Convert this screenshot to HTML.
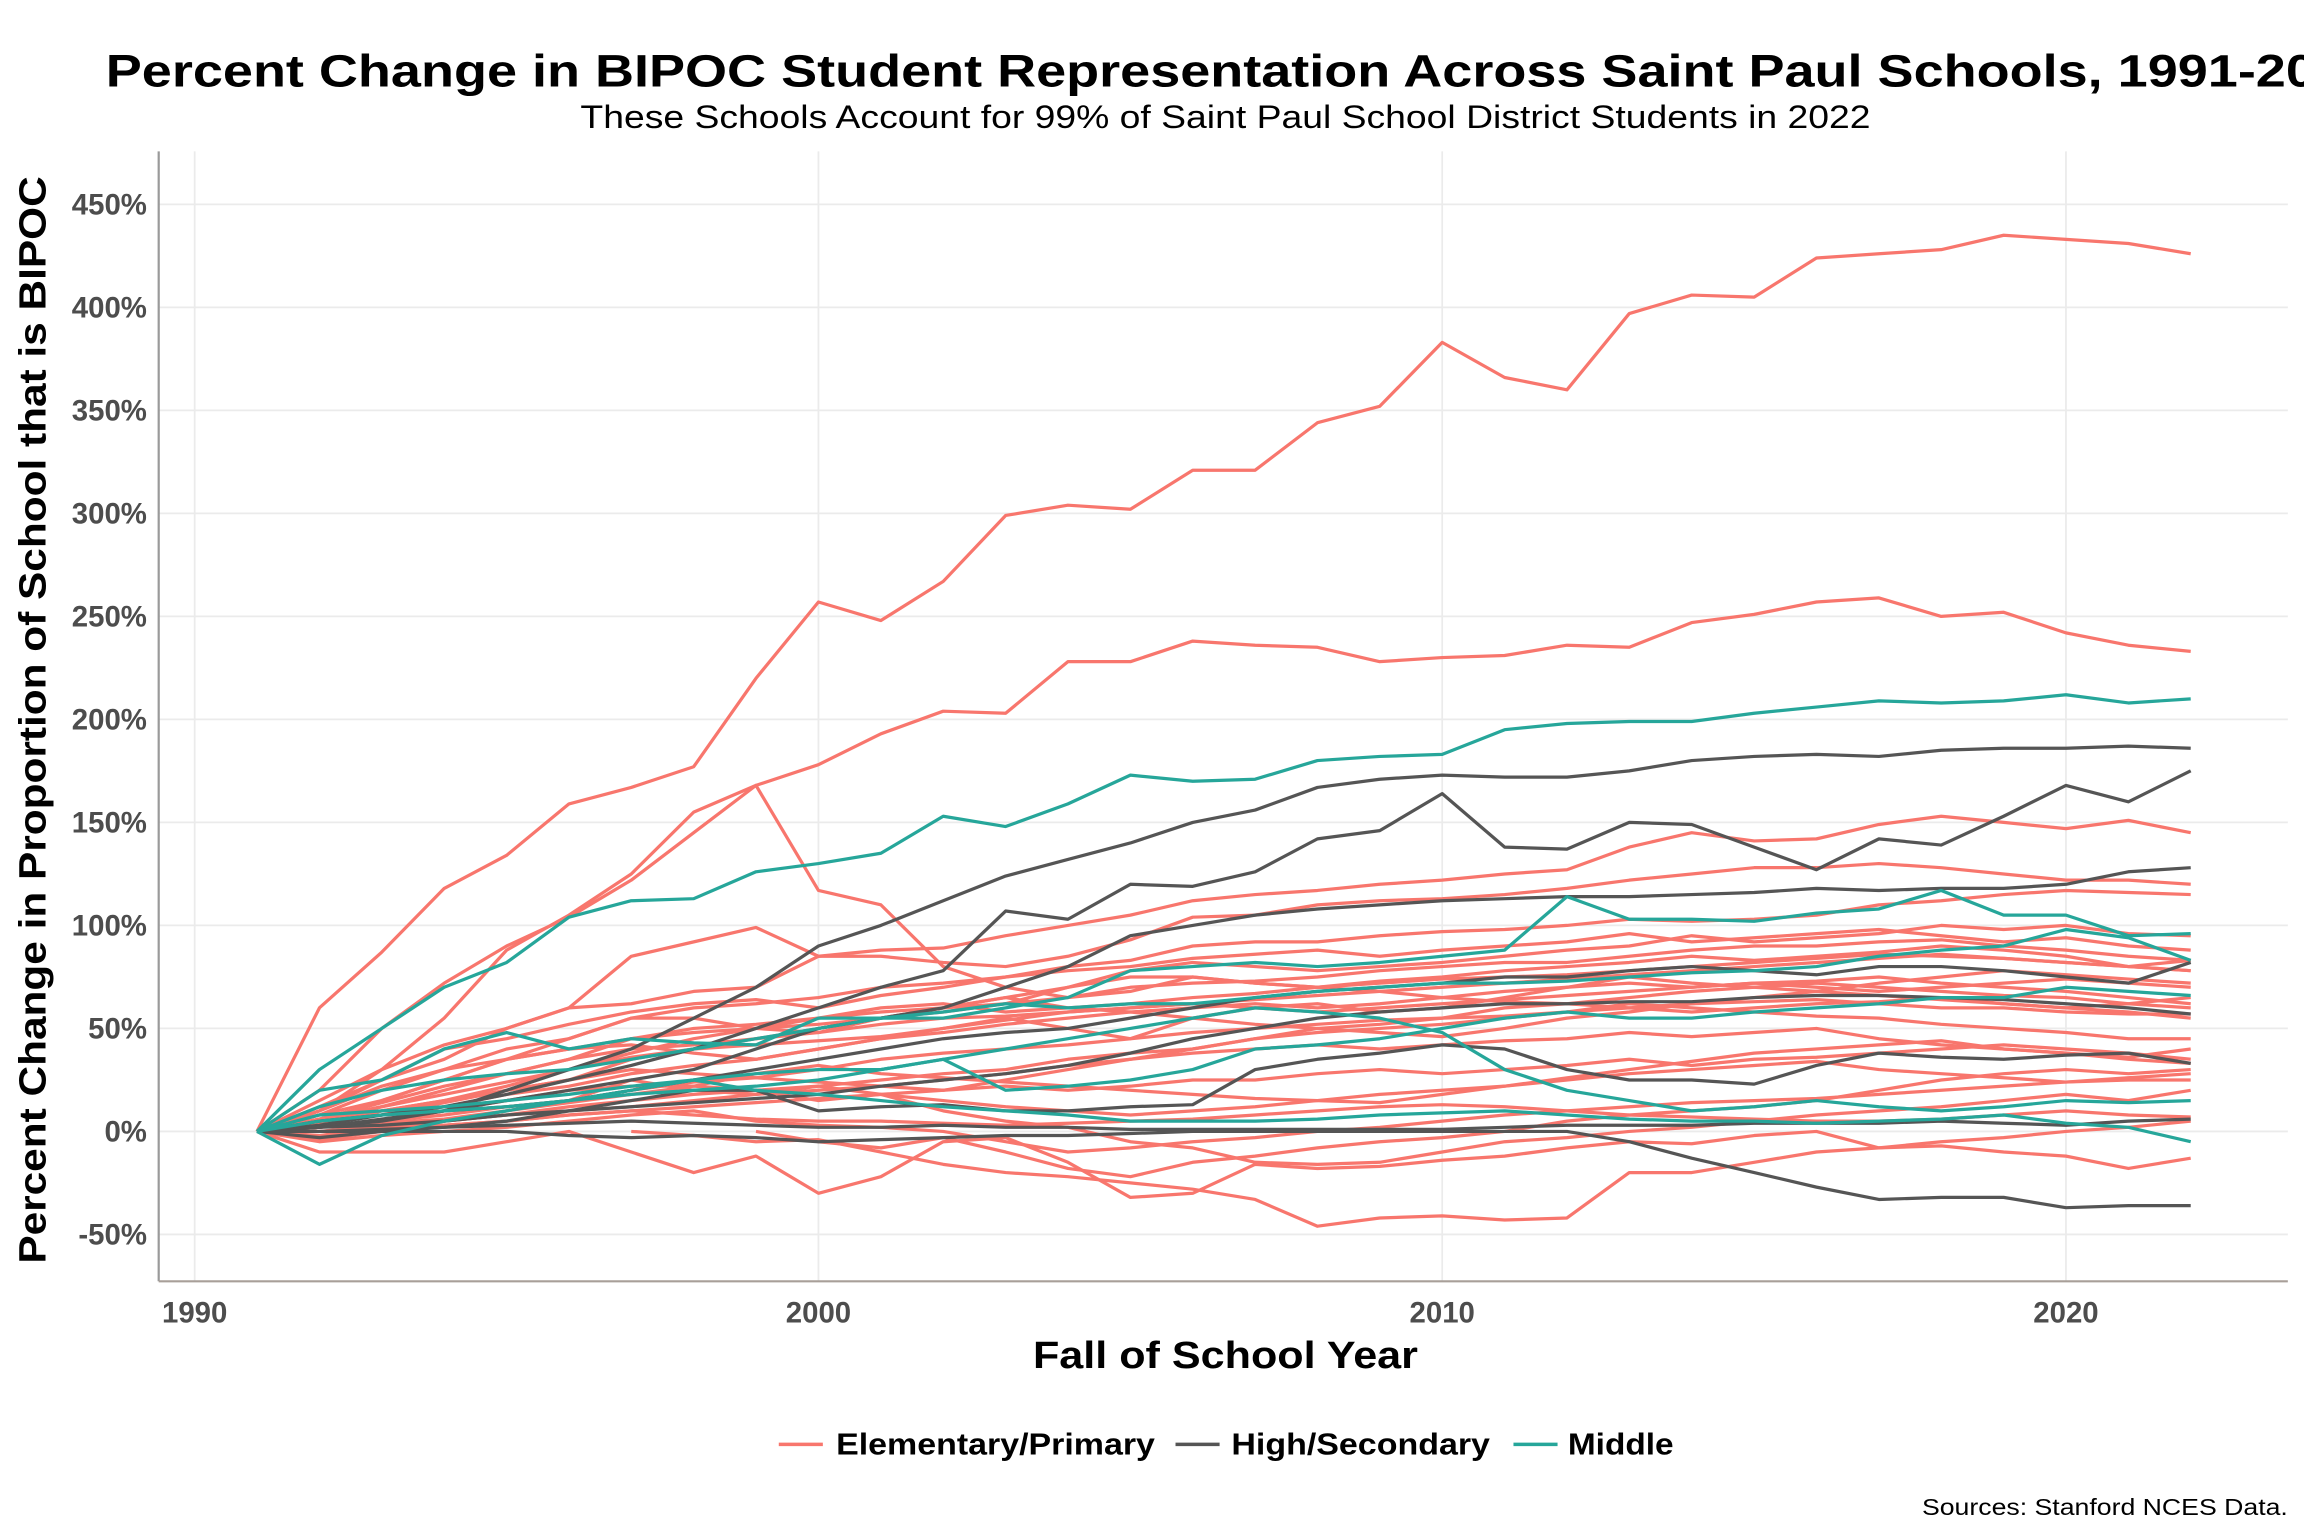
<!DOCTYPE html>
<html><head><meta charset="utf-8"><style>
html,body{margin:0;padding:0;background:#fff;}
svg{display:block;}
text{font-family:"Liberation Sans",Arial,sans-serif;}
</style></head><body>
<svg id="chart" width="2304" height="1536" viewBox="0 0 1568 1045.33" xmlns="http://www.w3.org/2000/svg">
<rect x="0" y="0" width="1568" height="1046" fill="#fff"/>
<g id="grid"></g>
<g id="lines"></g>
<line x1="108" y1="103" x2="108" y2="872" stroke="#9a9a9a" stroke-width="1.5"/>
<line x1="108" y1="872" x2="1557" y2="872" stroke="#a89f99" stroke-width="1.5"/>
<g id="yticks"></g>
<g id="xticks"></g>
<text x="72" y="59" font-size="31" font-weight="bold" fill="#000" textLength="1545" lengthAdjust="spacingAndGlyphs">Percent Change in BIPOC Student Representation Across Saint Paul Schools, 1991-2022</text>
<text x="395" y="87" font-size="22" fill="#000" textLength="878" lengthAdjust="spacingAndGlyphs">These Schools Account for 99% of Saint Paul School District Students in 2022</text>
<text x="703" y="931" font-size="26" font-weight="bold" fill="#000" textLength="262" lengthAdjust="spacingAndGlyphs">Fall of School Year</text>
<text transform="translate(31,860) rotate(-90)" font-size="26" font-weight="bold" fill="#000" textLength="740" lengthAdjust="spacingAndGlyphs">Percent Change in Proportion of School that is BIPOC</text>
<g>
<g><line x1="530" y1="983" x2="560" y2="983" stroke="#F8766D" stroke-width="2.4"/><text x="569" y="990" font-size="21" font-weight="bold" textLength="217" lengthAdjust="spacingAndGlyphs">Elementary/Primary</text></g>
<g><line x1="800" y1="983" x2="830" y2="983" stroke="#555555" stroke-width="2.4"/><text x="838" y="990" font-size="21" font-weight="bold" textLength="176" lengthAdjust="spacingAndGlyphs">High/Secondary</text></g>
<g><line x1="1030" y1="983" x2="1060" y2="983" stroke="#26A69A" stroke-width="2.4"/><text x="1067" y="990" font-size="21" font-weight="bold" textLength="72" lengthAdjust="spacingAndGlyphs">Middle</text></g>
</g>
<text x="1308" y="1031" font-size="16" fill="#000" textLength="249" lengthAdjust="spacingAndGlyphs">Sources: Stanford NCES Data.</text>
</svg>
<script>
const years = [1991,1992,1993,1994,1995,1996,1997,1998,1999,2000,2001,2002,2003,2004,2005,2006,2007,2008,2009,2010,2011,2012,2013,2014,2015,2016,2017,2018,2019,2020,2021,2022];
const yTicks = [-50,0,50,100,150,200,250,300,350,400,450];
const xTicks = [1990,2000,2010,2020];
const N = null;
const elementary = [
[0,60,87,118,134,159,167,177,220,257,248,267,299,304,302,321,321,344,352,383,366,360,397,406,405,424,426,428,435,433,431,426],
[0,10,30,55,88,105,125,155,168,178,193,204,203,228,228,238,236,235,228,230,231,236,235,247,251,257,259,250,252,242,236,233],
[0,20,50,72,90,104,122,145,168,117,110,80,70,65,68,75,72,70,68,65,63,62,60,62,63,64,62,60,60,58,57,57],
[0,15,30,42,50,60,62,68,70,85,88,89,95,100,105,112,115,117,120,122,125,127,138,145,141,142,149,153,150,147,151,145],
[0,10,25,35,50,60,85,92,99,85,85,82,80,85,93,104,105,110,112,113,115,118,122,125,128,128,130,128,125,122,122,120],
[0,8,20,30,40,45,55,60,62,65,70,72,75,80,83,90,92,92,95,97,98,100,103,102,103,105,110,112,115,117,116,115],
[0,5,12,20,28,35,45,50,52,55,58,60,62,70,78,82,80,78,80,82,85,88,90,95,92,94,96,100,98,100,96,95],
[0,3,10,15,20,25,35,40,45,50,55,60,65,70,75,75,72,70,73,75,78,80,82,85,83,85,87,90,88,85,80,78],
[0,5,8,12,18,22,28,32,35,40,45,48,52,55,58,60,62,60,62,65,68,70,72,70,72,73,75,72,70,68,65,62],
[0,2,5,8,12,15,20,24,26,30,35,38,40,42,45,48,50,52,54,55,56,58,60,58,60,62,63,65,62,60,58,55],
[0,0,3,5,8,10,12,15,18,20,22,25,28,32,35,38,40,42,40,42,44,45,48,46,48,50,45,42,40,38,35,33],
[0,-3,0,3,5,8,10,12,14,16,18,20,22,20,22,25,25,28,30,28,30,32,35,32,35,36,38,40,42,40,38,35],
[0,-5,-2,0,2,5,8,10,5,3,2,0,-5,-10,-8,-5,-3,0,2,5,8,10,12,14,15,16,18,20,22,24,25,25],
[0,-10,-10,-10,-5,0,-10,-20,-12,-30,-22,-5,-3,-15,-32,-30,-16,-18,-17,-14,-12,-8,-5,-6,-2,0,-8,-7,-10,-12,-18,-13],
[N,N,N,N,N,N,0,-2,-5,-4,-10,-16,-20,-22,-25,-28,-33,-46,-42,-41,-43,-42,-20,-20,-15,-10,-8,-5,-3,0,2,5],
[0,2,5,10,15,20,22,22,20,15,18,10,5,2,-5,-8,-15,-16,-15,-10,-5,-3,0,2,5,8,10,12,15,18,15,20],
[0,3,15,25,35,45,55,55,50,48,55,60,65,60,58,55,52,50,52,55,60,62,65,68,70,72,70,68,66,65,62,60],
[0,5,10,15,22,30,38,45,50,55,60,62,58,60,62,65,67,70,72,74,75,76,78,80,82,84,86,85,84,82,80,83],
[0,-2,2,5,10,15,25,20,18,22,25,28,30,35,38,40,45,48,50,52,55,58,62,60,58,56,55,52,50,48,45,45],
[0,0,2,3,5,8,10,8,6,5,5,4,3,4,5,6,8,10,12,13,12,10,8,7,6,5,5,6,8,10,8,7],
[0,10,22,30,35,40,45,48,50,52,55,58,62,65,70,72,73,75,78,80,82,82,85,88,90,90,92,93,90,88,85,83],
[0,6,14,22,28,35,40,42,45,48,52,55,56,58,60,62,60,58,60,62,64,66,68,70,72,70,68,70,72,74,72,70],
[N,N,N,N,N,N,N,N,0,-5,-8,-3,-10,-18,-22,-15,-12,-8,-5,-3,0,5,8,10,12,15,20,25,28,30,28,30],
[0,4,8,14,20,25,30,28,26,24,22,20,25,30,35,40,45,50,48,46,50,55,58,62,65,68,66,64,62,60,62,65],
[0,2,4,6,10,14,18,22,28,32,28,26,24,22,20,18,16,15,14,18,22,26,30,34,38,40,42,44,40,38,36,40],
[0,12,25,40,45,52,58,62,64,60,66,70,75,78,80,84,86,88,85,88,90,92,96,92,94,96,98,95,92,94,90,88],
[0,8,15,25,35,40,42,38,35,40,45,50,55,50,45,55,60,62,58,60,65,70,75,72,70,68,72,75,78,76,74,72],
[0,-4,0,5,8,12,15,18,20,22,18,15,12,10,8,10,12,15,18,20,22,25,28,30,32,34,30,28,26,24,26,28],
[0,6,12,18,24,30,36,40,42,44,46,50,54,58,60,62,64,66,68,70,72,74,76,78,80,82,84,86,84,82,80,78]
];
const high = [
[0,2,5,10,20,30,40,55,70,90,100,112,124,132,140,150,156,167,171,173,172,172,175,180,182,183,182,185,186,186,187,186],
[0,3,8,12,18,25,32,40,50,60,70,78,107,103,120,119,126,142,146,164,138,137,150,149,138,127,142,139,153,168,160,175],
[0,2,6,10,15,20,25,30,40,50,55,60,70,80,95,100,105,108,110,112,113,114,114,115,116,118,117,118,118,120,126,128],
[0,0,0,0,0,-2,-3,-2,-3,-5,-4,-3,-2,-2,-1,0,0,0,0,0,0,0,-5,-13,-20,-27,-33,-32,-32,-37,-36,-36],
[0,5,8,10,12,15,20,25,30,35,40,45,48,50,55,60,65,68,70,72,75,75,78,80,78,76,80,80,78,75,72,82],
[0,2,3,5,8,10,12,14,16,18,22,25,28,32,38,45,50,55,58,60,62,62,63,63,65,66,66,65,64,62,60,57],
[0,-3,0,2,5,10,15,20,20,10,12,13,10,10,12,13,30,35,38,42,40,30,25,25,23,32,38,36,35,37,38,33],
[0,0,1,2,3,4,5,4,3,2,2,3,2,2,1,1,1,1,1,1,2,3,3,3,4,4,4,5,4,3,5,6]
];
const middle = [
[0,30,50,70,82,104,112,113,126,130,135,153,148,159,173,170,171,180,182,183,195,198,199,199,203,206,209,208,209,212,208,210],
[0,20,25,40,48,40,45,43,42,55,55,55,60,65,78,80,82,80,82,85,88,114,103,103,102,106,108,117,105,105,95,96],
[0,-16,-2,5,10,15,20,25,28,30,30,35,40,45,50,55,60,58,55,48,30,20,15,10,12,15,12,10,12,15,14,15],
[0,12,20,25,28,30,35,40,45,50,55,58,62,60,62,62,65,68,70,72,72,73,75,77,78,80,85,88,90,98,94,83],
[0,5,8,10,12,15,18,20,22,25,30,35,20,22,25,30,40,42,45,50,55,58,55,55,58,60,62,65,65,70,68,66],
[0,8,10,12,15,18,22,25,20,18,15,12,10,8,5,5,5,6,8,9,10,8,6,5,5,4,5,6,8,4,2,-5]
];
const NS='http://www.w3.org/2000/svg';
function xs(yr){return 557+(yr-2000)*42.45;}
function ys(v){return 770-v*1.402;}
function mk(t,a,p){const e=document.createElementNS(NS,t);for(const k in a)e.setAttribute(k,a[k]);p.appendChild(e);return e;}
const grid=document.getElementById('grid');
yTicks.forEach(v=>{const l=mk('line',{x1:108,x2:1557,y1:ys(v),y2:ys(v),stroke:'#ebebeb','stroke-width':1.2},grid);

});
xTicks.forEach(v=>{const l=mk('line',{x1:xs(v),x2:xs(v),y1:103,y2:872,stroke:'#ebebeb','stroke-width':1.2},grid);

});
const yt=document.getElementById('yticks');
yTicks.forEach(v=>{const t=mk('text',{x:100,y:ys(v)+7,'font-size':20,'font-weight':'bold','text-anchor':'end',fill:'#4d4d4d'},yt);t.textContent=v+'%';

});
const xt=document.getElementById('xticks');
xTicks.forEach(v=>{const t=mk('text',{x:xs(v),y:900,'font-size':20,'font-weight':'bold','text-anchor':'middle',fill:'#4d4d4d'},xt);t.textContent=v;

});
const lg=document.getElementById('lines');
function draw(arr,color,name){arr.forEach(s=>{let d='';let pen=false;s.forEach((v,i)=>{if(v===null){pen=false;return;}d+=(pen?'L':'M')+xs(years[i]).toFixed(1)+','+ys(v).toFixed(1);pen=true;});
const p=mk('path',{d:d,fill:'none',stroke:color,'stroke-width':2.2,'stroke-linejoin':'round'},lg);

});}
draw(elementary,'#F8766D','elementary-school-line');
draw(high,'#555555','high-school-line');
draw(middle,'#26A69A','middle-school-line');
</script>
</body></html>
